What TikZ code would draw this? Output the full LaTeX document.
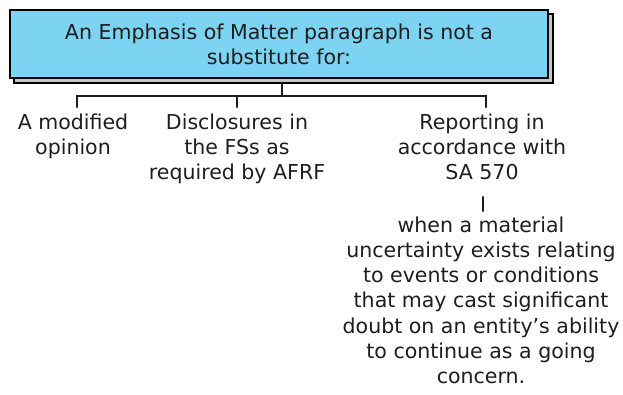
\documentclass[tikz,border=0pt]{standalone}
\usepackage{fontspec}
\setmainfont{DejaVu Sans}
\usepackage{xcolor}
\usetikzlibrary{positioning}
\definecolor{boxblue}{HTML}{7DD3F2}
\definecolor{ink}{HTML}{1E1E1E}

\begin{document}
\begin{tikzpicture}[
  x=0.025cm, y=-0.025cm,
  every node/.style={font=\fontsize{14.6}{17.8}\selectfont, text=ink, align=center, inner sep=0pt},
  lbl/.style={anchor=north},
  conn/.style={draw=ink, line width=1.9pt, line cap=round}
]
\useasboundingbox (0,0) rectangle (623,394);
% header box with shadow
\draw[line width=1.6pt, fill=black!22] (14,14) rectangle (553,83);
\draw[line width=1.9pt, fill=boxblue] (10,10) rectangle (548,78);
\node (H) at (279,44) {An Emphasis of Matter paragraph is not a\\substitute for:};
\coordinate (Hb) at (282,83);
\coordinate (J) at (282,96);
% branches
\node[lbl] (M) at (73,114) {A modified\\opinion};
\node[lbl] (D) at (237,114) {Disclosures in\\the FSs as\\required by AFRF};
\node[lbl] (R) at (482,114) {Reporting in\\accordance with\\SA 570};
\node[lbl] (W) at (481,217) {when a material\\uncertainty exists relating\\to events or conditions\\that may cast significant\\doubt on an entity's ability\\to continue as a going\\concern.};
\coordinate (Mt) at (77,107);
\coordinate (Dt) at (237,107);
\coordinate (Rt) at (486,107);
\coordinate (Dj) at (237,96);
\coordinate (Rb) at (483,197);
\coordinate (Wt) at (483,211);
\draw[conn] (Hb) -- (J);
\draw[conn] (Mt) |- (J) -| (Rt);
\draw[conn] (Dj) -- (Dt);
\draw[conn] (Rb) -- (Wt);
\end{tikzpicture}
\end{document}
